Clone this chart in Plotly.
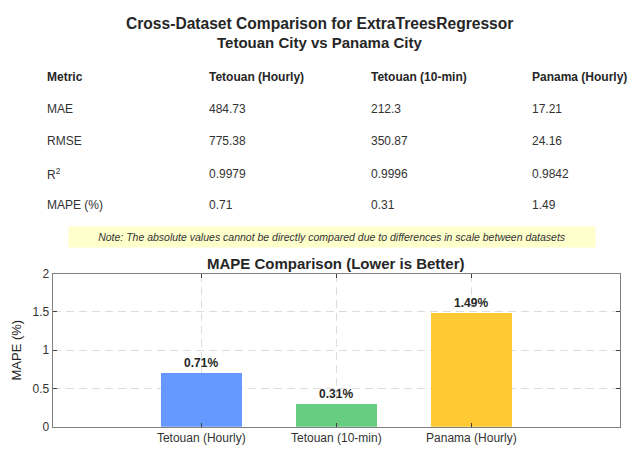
import plotly.graph_objects as go

# ---- data -----------------------------------------------------------------
datasets = ["Tetouan (Hourly)", "Tetouan (10-min)", "Panama (Hourly)"]
metric_names = ["MAE", "RMSE", "R<sup>2</sup>", "MAPE (%)"]
tetouan_hourly = ["484.73", "775.38", "0.9979", "0.71"]
tetouan_10min = ["212.3", "350.87", "0.9996", "0.31"]
panama_hourly = ["17.21", "24.16", "0.9842", "1.49"]
mape_values = [0.71, 0.31, 1.49]
bar_colors = ["#6699FF", "#66CC80", "#FFC933"]
y_ticks = [0, 0.5, 1, 1.5, 2]

# the page body keeps its default 8px margin; shrink the figure so the whole
# page is exactly the 638x457 window and shift reference pixels by the margin
OFF = 8
W, H = 638 - 2 * OFF, 457 - 2 * OFF
FONT = "Liberation Sans, Arial, sans-serif"


def px(x):
    return (x - OFF) / W


def py(y):
    return 1 - (y - OFF) / H


fig = go.Figure()
fig.add_trace(go.Bar(
    x=[1, 2, 3], y=mape_values, width=0.6,
    marker=dict(color=bar_colors, line=dict(width=0)),
    text=[f"<b>{v:.2f}%</b>" for v in mape_values],
    textposition="outside", cliponaxis=False,
    textfont=dict(size=12, color="#262626", family=FONT),
    hoverinfo="skip", showlegend=False,
))

ann = []
# titles
ann.append(dict(x=px(319), y=py(17), text="<b>Cross-Dataset Comparison for ExtraTreesRegressor</b>",
                font=dict(size=15.6, color="#262626")))
ann.append(dict(x=px(319), y=py(36), text="<b>Tetouan City vs Panama City</b>",
                font=dict(size=15, color="#262626")))
ann.append(dict(x=px(336), y=py(265), text="<b>MAPE Comparison (Lower is Better)</b>",
                font=dict(size=15, color="#262626")))

# table
col_x = [45, 207, 369, 530]
row_y = [72, 105, 138, 172, 204]
header = ["Metric"] + datasets
for cx, h in zip(col_x, header):
    ann.append(dict(x=px(cx), y=py(row_y[0]), text=f"<b>{h}</b>", xanchor="left",
                    font=dict(size=12, color="#262626")))
columns = [metric_names, tetouan_hourly, tetouan_10min, panama_hourly]
for cx, col in zip(col_x, columns):
    for ry, val in zip(row_y[1:], col):
        ann.append(dict(x=px(cx), y=py(ry), text=val, xanchor="left",
                        font=dict(size=12, color="#333333")))

# note
ann.append(dict(x=px(332), y=py(237),
                text="<i>Note: The absolute values cannot be directly compared due to differences in scale between datasets</i>",
                bgcolor="#FFFFCC", width=522, height=16, borderpad=2,
                font=dict(size=10.5, color="#333333")))

for a in ann:
    a.setdefault("xref", "paper")
    a.setdefault("yref", "paper")
    a.setdefault("showarrow", False)
    a.setdefault("yanchor", "middle")

axis_line = dict(showline=True, linecolor="#808080", linewidth=1, mirror="ticks",
                 ticks="inside", ticklen=4, tickcolor="#404040",
                 showgrid=True, gridcolor="#dddddd", griddash="8px,5px", gridwidth=1,
                 zeroline=False, tickfont=dict(size=12, color="#333333"))

fig.update_layout(
    width=W, height=H,
    margin=dict(l=0, r=0, t=0, b=0),
    paper_bgcolor="white", plot_bgcolor="white",
    font=dict(family=FONT, color="#262626"),
    annotations=ann,
    hovermode=False,
    xaxis=dict(domain=[px(52.7), px(620)], range=[-0.1, 4.1],
               tickvals=[1, 2, 3], ticktext=datasets, **axis_line),
    yaxis=dict(domain=[py(433.3), py(275)], range=[0, 2],
               tickvals=y_ticks, ticktext=[f"{t:g}" for t in y_ticks],
               title=dict(text="MAPE (%)", font=dict(size=13, color="#262626"), standoff=8),
               **axis_line),
    bargap=0,
)

fig.write_html("out.html", config={"displayModeBar": False})
